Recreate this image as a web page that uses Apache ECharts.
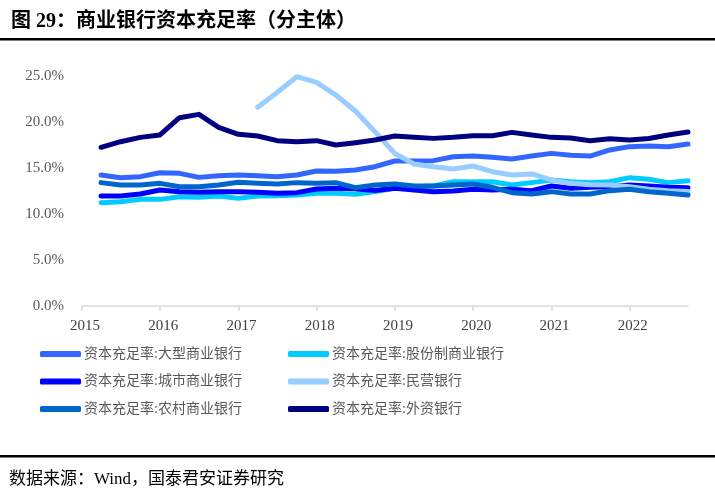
<!DOCTYPE html>
<html>
<head>
<meta charset="utf-8">
<script src="https://cdn.jsdelivr.net/npm/echarts@6/dist/echarts.min.js"></script>
<style>
  html, body { margin: 0; padding: 0; background: #fff; }
  #chart { width: 715px; height: 494px; }
</style>
</head>
<body>
<div id="chart"></div>
<script>
// 季度末日期 2015Q1 - 2022Q3
const quarters = [
  '2015-03-31', '2015-06-30', '2015-09-30', '2015-12-31',
  '2016-03-31', '2016-06-30', '2016-09-30', '2016-12-31',
  '2017-03-31', '2017-06-30', '2017-09-30', '2017-12-31',
  '2018-03-31', '2018-06-30', '2018-09-30', '2018-12-31',
  '2019-03-31', '2019-06-30', '2019-09-30', '2019-12-31',
  '2020-03-31', '2020-06-30', '2020-09-30', '2020-12-31',
  '2021-03-31', '2021-06-30', '2021-09-30', '2021-12-31',
  '2022-03-31', '2022-06-30', '2022-09-30'
]

// 资本充足率（%）
const bigBanks = [14.24, 13.95, 14.06, 14.49, 14.42, 13.98, 14.17, 14.24, 14.17, 14.06, 14.24, 14.67, 14.64, 14.78, 15.14, 15.76,
  15.76, 15.80, 16.23, 16.30, 16.16, 15.98, 16.30, 16.59, 16.38, 16.30, 16.96, 17.32, 17.39, 17.32, 17.61]
const jointStock = [11.23, 11.34, 11.59, 11.59, 11.88, 11.81, 11.96, 11.70, 11.96, 11.99, 12.07, 12.25, 12.25, 12.14, 12.43, 12.79,
  12.97, 13.04, 13.51, 13.51, 13.51, 13.15, 13.41, 13.70, 13.51, 13.41, 13.51, 13.95, 13.77, 13.41, 13.62]
const cityBanks = [11.96, 11.96, 12.17, 12.61, 12.43, 12.36, 12.43, 12.43, 12.36, 12.25, 12.32, 12.72, 12.79, 12.75, 12.55, 12.79,
  12.61, 12.43, 12.50, 12.68, 12.61, 12.68, 12.54, 13.04, 12.79, 12.90, 12.97, 13.15, 13.04, 12.90, 12.85]
const privateBanks = [null, null, null, null, null, null, null, null, 21.60, 23.20, 24.93, 24.30, 22.93, 21.20, 18.95, 16.59,
  15.43, 15.14, 14.89, 15.22, 14.60, 14.24, 14.35, 13.70, 13.33, 13.19, 13.15, 12.97, 12.68, 12.54, 12.45]
const ruralBanks = [13.41, 13.15, 13.15, 13.33, 12.97, 12.97, 13.15, 13.44, 13.33, 13.26, 13.41, 13.33, 13.41, 12.86, 13.15, 13.26,
  13.04, 13.04, 13.15, 13.26, 12.90, 12.32, 12.17, 12.43, 12.17, 12.17, 12.54, 12.68, 12.43, 12.25, 12.07]
const foreignBanks = [17.25, 17.86, 18.33, 18.59, 20.47, 20.83, 19.42, 18.66, 18.48, 17.97, 17.86, 17.97, 17.50, 17.75, 18.04, 18.48,
  18.33, 18.22, 18.33, 18.50, 18.50, 18.87, 18.59, 18.33, 18.26, 17.97, 18.19, 18.04, 18.20, 18.59, 18.91]

const yTicks = [0, 5, 10, 15, 20, 25]

const seriesDefs = [
  { name: '资本充足率:大型商业银行', data: bigBanks, color: '#3366FF' },
  { name: '资本充足率:股份制商业银行', data: jointStock, color: '#00CCFF' },
  { name: '资本充足率:城市商业银行', data: cityBanks, color: '#0000FF' },
  { name: '资本充足率:民营银行', data: privateBanks, color: '#99CCFF' },
  { name: '资本充足率:农村商业银行', data: ruralBanks, color: '#0066CC' },
  { name: '资本充足率:外资银行', data: foreignBanks, color: '#000080' }
]

const serif = '"Liberation Serif", "Noto Sans CJK SC", serif'
const chart = echarts.init(document.getElementById('chart'), null, { renderer: 'canvas' })

const legendBase = {
  orient: 'vertical',
  top: 347,
  padding: 0,
  itemGap: 13.5,
  itemWidth: 41,
  itemHeight: 6,
  icon: 'roundRect',
  textStyle: { fontSize: 14, color: '#595959', fontFamily: serif, padding: [0, 0, 0, -2] }
}

chart.setOption({
  animation: false,
  backgroundColor: '#fff',
  title: [
    {
      text: '图 29：商业银行资本充足率（分主体）',
      left: 6, top: 7,
      textStyle: { fontSize: 20, fontWeight: 'bold', color: '#000', fontFamily: serif }
    },
    {
      text: '数据来源：Wind，国泰君安证券研究',
      left: 4, top: 466,
      textStyle: { fontSize: 17, fontWeight: 'normal', color: '#000', fontFamily: serif }
    }
  ],
  graphic: [
    { type: 'rect', shape: { x: 0, y: 38, width: 715, height: 2.5 }, style: { fill: '#000' } },
    { type: 'rect', shape: { x: 0, y: 455, width: 715, height: 2.5 }, style: { fill: '#000' } }
  ],
  legend: [
    Object.assign({}, legendBase, { left: 40, data: [seriesDefs[0].name, seriesDefs[2].name, seriesDefs[4].name] }),
    Object.assign({}, legendBase, { left: 288, data: [seriesDefs[1].name, seriesDefs[3].name, seriesDefs[5].name] })
  ],
  grid: { left: 82, right: 27, top: 76, bottom: 188, containLabel: false },
  xAxis: {
    type: 'time',
    min: '2015-01-01',
    max: '2022-09-30',
    minInterval: 365 * 24 * 3600 * 1000,
    maxInterval: 366 * 24 * 3600 * 1000,
    splitLine: { show: false },
    axisLine: { lineStyle: { color: '#d9d9d9', width: 1.5 } },
    axisTick: { show: true, length: 5, lineStyle: { color: '#d9d9d9', width: 1.5 } },
    axisLabel: {
      margin: 13,
      fontSize: 15,
      color: '#404040',
      fontFamily: serif,
      padding: [0, 0, 0, 6],
      formatter: (val) => String(new Date(val).getFullYear())
    }
  },
  yAxis: {
    type: 'value',
    min: yTicks[0],
    max: yTicks[yTicks.length - 1],
    interval: 5,
    splitLine: { show: false },
    axisLine: { show: false },
    axisTick: { show: false },
    axisLabel: {
      margin: 18,
      fontSize: 15,
      color: '#595959',
      fontFamily: serif,
      formatter: (v) => v.toFixed(1) + '%'
    }
  },
  series: seriesDefs.map((s) => ({
    name: s.name,
    type: 'line',
    data: quarters.map((q, i) => [q, s.data[i]]),
    showSymbol: false,
    symbol: 'none',
    color: s.color,
    lineStyle: { width: 5, color: s.color, cap: 'round', join: 'round' },
    emphasis: { disabled: true }
  }))
})
</script>
</body>
</html>
